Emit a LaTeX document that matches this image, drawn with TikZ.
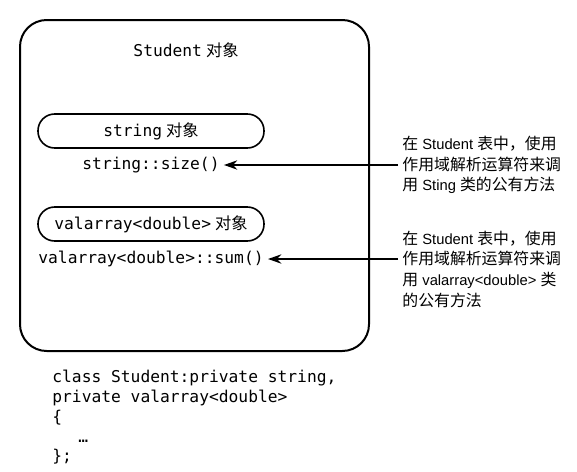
\documentclass[tikz,border=0pt]{standalone}
\usepackage{fontspec}
\setmainfont{Liberation Sans}[Scale=0.93]
\setmonofont{DejaVu Sans Mono}
\newfontfamily\cjk{Noto Sans CJK SC}
\usetikzlibrary{arrows.meta}
\newcommand{\zh}[1]{\hspace{3pt}{\cjk #1}}
\tikzset{
	outerbox/.style={line width=1.5pt, rounded corners=20pt},
	pill/.style={draw, line width=1.2pt, rounded corners=12.5pt, minimum width=169.5pt, minimum height=25.5pt, inner sep=0pt},
	codetxt/.style={font=\fontsize{12.2}{14.8}\selectfont\ttfamily, align=left},
	note/.style={font=\fontsize{11.9}{15.5}\selectfont, align=left},
	arr/.style={line width=1.2pt, -{Stealth[length=10pt,width=7pt]}}
}

\begin{document}
\begin{tikzpicture}[x=0.75pt, y=-0.75pt]
			%%%%% START %%%%%
			\useasboundingbox (0, 0) rectangle (577, 471);
			
			\draw[outerbox] (20, 20) rectangle (369, 351);
			\node[codetxt] (title) at (186, 50) {Student\zh{对象}};
			
			\node[pill, codetxt] (strobj) at (151, 131) {string\zh{对象}};
			\node[codetxt] (size) at (151, 165) {string::size()};
			
			\node[pill, codetxt] (valobj) at (151, 224) {valarray<double>\zh{对象}};
			\node[codetxt] (sum) at (151, 259) {valarray<double>::sum()};
			
			\node[note, anchor=west] (note1) at (398, 165) {{\cjk 在} Student {\cjk 表中，使用}\\{\cjk 作用域解析运算符来调}\\{\cjk 用} Sting {\cjk 类的公有方法}};
			\node[note, anchor=west] (note2) at (398, 269) {{\cjk 在} Student {\cjk 表中，使用}\\{\cjk 作用域解析运算符来调}\\{\cjk 用} valarray<double> {\cjk 类}\\{\cjk 的公有方法}};
			
			\draw[arr] (note1.west |- size.east) -- (size.east);
			\draw[arr] (note2.west |- sum.east) -- (sum.east);
			
			\node[codetxt, anchor=north west] (decl) at (48, 366) {class Student:private string,\\private valarray<double>\\\{\\\hspace*{19.5pt}…\\\};};
			
			%%%%% END %%%%%
\end{tikzpicture}
\end{document}
